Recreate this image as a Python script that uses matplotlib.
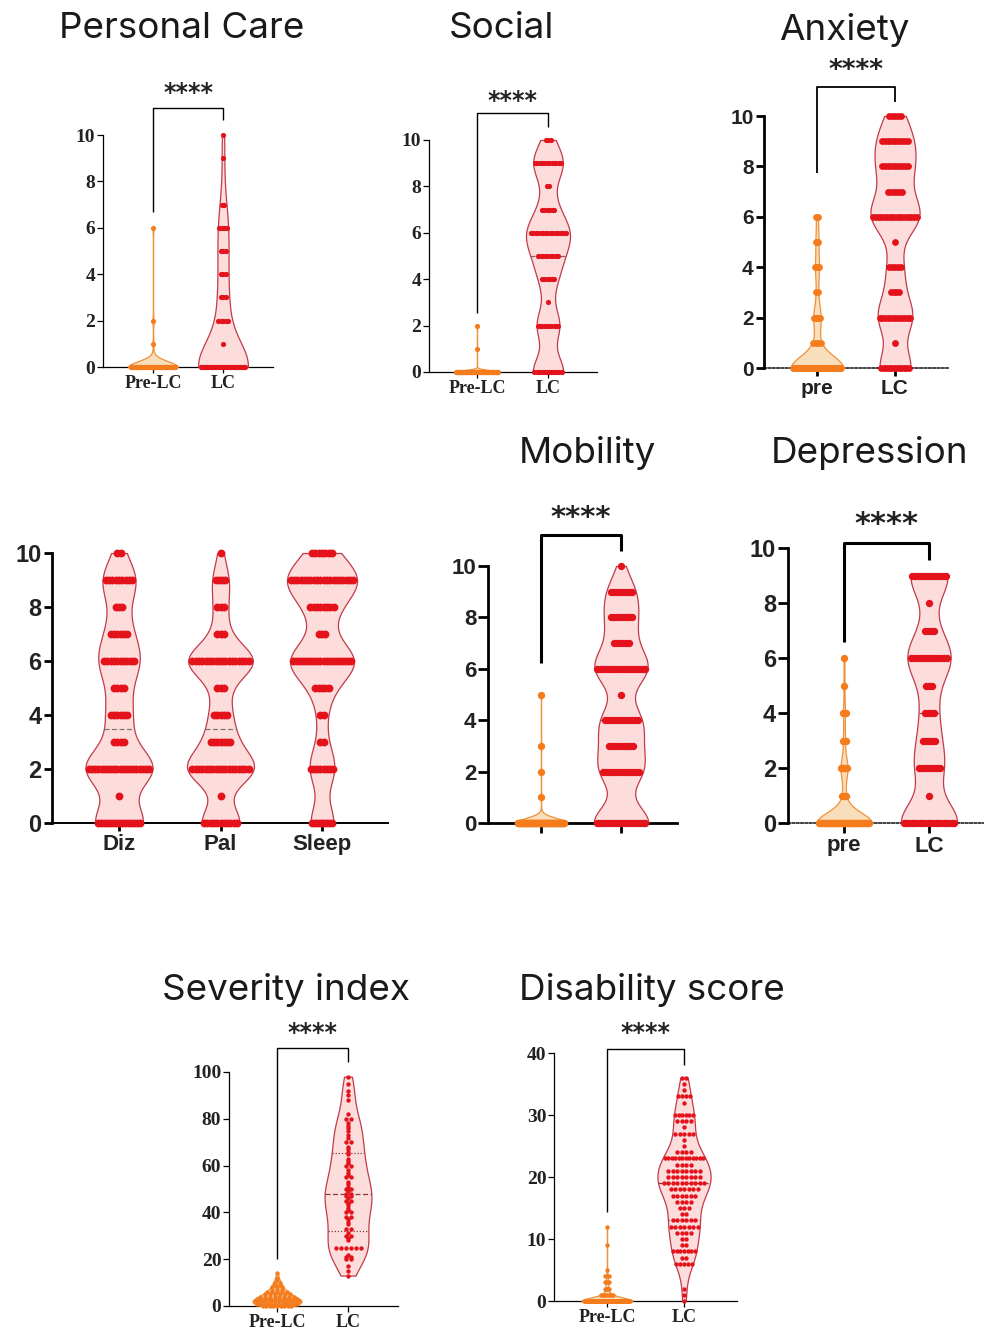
import numpy as np
import matplotlib
matplotlib.use("Agg")
import matplotlib.pyplot as plt

# ---------------- data ----------------
score_levels = list(range(11))

# counts of patients at each 0-10 score
personal_care_pre = [56, 1, 1, 0, 0, 0, 1, 0, 0, 0, 0]
personal_care_lc = [36, 1, 5, 3, 3, 3, 4, 2, 0, 1, 1]
social_pre = [76, 1, 1, 0, 0, 0, 0, 0, 0, 0, 0]
social_lc = [14, 0, 10, 1, 6, 9, 15, 6, 2, 12, 3]
anxiety_pre = [60, 4, 8, 2, 4, 3, 2, 0, 0, 0, 0]
anxiety_lc = [12, 1, 12, 4, 5, 1, 17, 6, 10, 10, 5]
dizziness = [15, 1, 20, 4, 6, 4, 10, 6, 3, 9, 2]
palpitations = [11, 1, 18, 7, 5, 3, 18, 3, 3, 4, 1]
sleep = [8, 0, 8, 2, 2, 5, 20, 3, 8, 20, 7]
mobility_pre = [91, 1, 1, 1, 0, 1, 0, 0, 0, 0, 0]
mobility_lc = [20, 0, 13, 9, 12, 1, 17, 6, 8, 8, 1]
depression_pre = [56, 3, 7, 2, 2, 1, 1, 0, 0, 0, 0]
depression_lc = [20, 1, 8, 5, 4, 3, 13, 4, 1, 13, 0]

symptom_labels = ["Diz", "Pal", "Sleep"]

severity_pre_levels = [0, 1, 2, 3, 4, 5, 6, 7, 8, 9, 10, 11, 12, 14]
severity_pre_counts = [9, 12, 12, 10, 8, 6, 5, 3, 3, 2, 2, 1, 1, 1]
severity_lc = [13, 15, 17, 20, 20, 21, 21, 22, 25, 25, 25, 25, 25, 25, 28, 29,
               30, 30, 31, 33, 33, 35, 36, 37, 38, 38, 40, 40, 41, 42, 43, 44,
               45, 45, 46, 47, 47, 48, 48, 49, 50, 50, 51, 52, 53, 55, 55, 56,
               57, 58, 60, 60, 61, 62, 63, 65, 66, 67, 68, 70, 70, 72, 73, 75,
               76, 77, 78, 80, 80, 82, 88, 90, 92, 95, 98]

disability_pre_levels = [0, 1, 2, 3, 4, 5, 9, 12]
disability_pre_counts = [110, 9, 5, 4, 2, 1, 1, 1]
disability_lc_levels = [0, 1, 2, 6, 7, 8, 9, 10, 11, 12, 13, 14, 15, 16, 17, 18,
                        19, 20, 21, 22, 23, 24, 25, 26, 27, 28, 29, 30, 32, 33,
                        34, 35, 36]
disability_lc_counts = [1, 1, 1, 5, 2, 7, 2, 2, 4, 7, 6, 2, 3, 4, 6, 7,
                        10, 8, 8, 4, 12, 4, 1, 1, 5, 1, 4, 6, 1, 4,
                        1, 1, 2]

pair_labels_long = ["Pre-LC", "LC"]
pair_labels_short = ["pre", "LC"]
stars = "****"

# ---------------- styling ----------------
W, H = 984, 1335
SERIF = ["Liberation Serif", "DejaVu Serif"]
SANS = ["Liberation Sans", "DejaVu Sans"]
TITLE = ["Inter", "DejaVu Sans"]
STAR = ["DejaVu Sans"]

RED = dict(face="#FDDCDC", edge="#C23A4A", dot="#E4121B", med="#8C5A5A")
ORANGE = dict(face="#F9DEBB", edge="#F09038", dot="#F47C1C", med="#B07A4A")

fig = plt.figure(figsize=(W / 100, H / 100), dpi=100)


def expand(levels, counts):
    return np.repeat(np.asarray(levels, float), counts)


def make_axes(left, right, y0, ytick_px, ytick_val, top, cats_px):
    unit = (cats_px[-1] - cats_px[0]) / (len(cats_px) - 1)
    ppv = (y0 - ytick_px) / ytick_val
    ax = fig.add_axes([left / W, 1 - y0 / H, (right - left) / W, (y0 - top) / H])
    ax.set_xlim((left - cats_px[0]) / unit, (right - cats_px[0]) / unit)
    ax.set_ylim(0, (y0 - top) / ppv)
    ax.patch.set_alpha(0)
    ax.unit = unit
    return ax


def half_width(body, pos, y):
    v = body.get_paths()[0].vertices
    r = v[v[:, 0] >= pos - 1e-9]
    order = np.argsort(r[:, 1])
    return float(np.interp(y, r[order, 1], r[order, 0]) - pos)


def draw_group(ax, values, pos, width, bw, pal, step_px, dot_s, edge_lw=0.9,
               med_color=None, quartiles=False):
    values = np.asarray(values, float)
    parts = ax.violinplot([values], positions=[pos], widths=width,
                          showextrema=False, bw_method=bw, points=600)
    body = parts["bodies"][0]
    body.set_facecolor(pal["face"])
    body.set_edgecolor(pal["edge"])
    body.set_alpha(1)
    body.set_linewidth(edge_lw)
    body.set_clip_on(False)
    body.set_zorder(1)
    q1, med, q3 = np.percentile(values, [25, 50, 75])
    lines = [(med, (0, (4, 2)))]
    if quartiles:
        lines += [(q1, (0, (1, 1.5))), (q3, (0, (1, 1.5)))]
    for y, ls in lines:
        hw = half_width(body, pos, y)
        ax.plot([pos - hw, pos + hw], [y, y], color=med_color or pal["med"],
                lw=0.9, ls=ls, zorder=2, clip_on=False)
    lv, cnt = np.unique(values, return_counts=True)
    step = step_px / ax.unit
    for v, n in zip(lv, cnt):
        cap = max(2 * half_width(body, pos, v) * 0.9, 0.0)
        spread = min(step * (n - 1), max(cap, step))
        xs = pos + np.linspace(-spread / 2, spread / 2, n)
        ax.scatter(xs, np.full(n, v), s=dot_s, color=pal["dot"], linewidths=0,
                   zorder=3, clip_on=False)


def style_axes(ax, ymax, yticks, yfont, ysize, ylw, xlw, xticks, xlabels,
               xfont, xsize, tick_len=5, xdotted=False):
    for s in ("top", "right"):
        ax.spines[s].set_visible(False)
    ax.spines["left"].set_bounds(0, ymax)
    ax.spines["left"].set_linewidth(ylw)
    ax.spines["bottom"].set_linewidth(xlw)
    ax.spines["bottom"].set_zorder(0.5)
    if xdotted:
        ax.spines["bottom"].set_linestyle((0, (1.2, 1.2)))
        ax.spines["bottom"].set_color("#333333")
    ax.set_yticks(yticks, labels=[str(t) for t in yticks], fontsize=ysize,
                  fontweight="bold", family=yfont, color="#222222")
    ax.set_xticks(xticks, labels=xlabels, fontsize=xsize, fontweight="bold",
                  family=xfont, color="#222222")
    ax.tick_params(axis="y", length=tick_len, width=ylw, pad=1.5)
    ax.tick_params(axis="x", length=tick_len, width=ylw, pad=2)


def bracket(ax, y_left, y_top, y_right, y_star, lw, star_size):
    ax.plot([0, 0, 1, 1], [y_left, y_top, y_top, y_right], color="black",
            lw=lw, clip_on=False, solid_capstyle="butt", zorder=4)
    ax.text(0.5, y_star, stars, ha="center", va="center", fontsize=star_size,
            fontweight="bold", family=STAR, color="#222222")


def title(x, y, text):
    fig.text(x / W, 1 - y / H, text, ha="center", va="center", fontsize=26.5,
             family=TITLE, color="#1a1a1a")


# ---------------- Personal Care ----------------
ax = make_axes(103, 273, 367, 135, 10, 85, [153, 223])
draw_group(ax, expand(score_levels, personal_care_pre), 0, 0.71, 0.3, ORANGE, 2.5, 14)
draw_group(ax, expand(score_levels, personal_care_lc), 1, 0.71, 0.4, RED, 2.5, 14)
style_axes(ax, 10, [0, 2, 4, 6, 8, 10], SERIF, 14, 0.9, 0.9, [0, 1],
           pair_labels_long, SERIF, 13, tick_len=4)
bracket(ax, 6.68, 11.16, 10.65, 11.8, 1.0, 17)
title(182, 28, "Personal Care")

# ---------------- Social ----------------
ax = make_axes(429, 597, 372, 140, 10, 90, [477, 548])
draw_group(ax, expand(score_levels, social_pre), 0, 0.65, 0.3, ORANGE, 2.5, 14)
draw_group(ax, expand(score_levels, social_lc), 1, 0.62, 0.22, RED, 2.5, 14)
style_axes(ax, 10, [0, 2, 4, 6, 8, 10], SERIF, 14, 0.9, 0.9, [0, 1],
           pair_labels_long, SERIF, 13, tick_len=4)
bracket(ax, 2.54, 11.16, 10.56, 11.7, 1.0, 17)
title(501, 28, "Social")

# ---------------- Anxiety ----------------
ax = make_axes(764, 948, 368, 116, 10, 60, [817, 895])
draw_group(ax, expand(score_levels, anxiety_pre), 0, 0.67, 0.3, ORANGE, 2.8, 24)
draw_group(ax, expand(score_levels, anxiety_lc), 1, 0.63, 0.22, RED, 2.8, 24)
style_axes(ax, 10, [0, 2, 4, 6, 8, 10], SANS, 15, 2.0, 1.3, [0, 1],
           pair_labels_short, SANS, 15, tick_len=6, xdotted=True)
bracket(ax, 7.74, 11.15, 10.56, 11.8, 1.3, 19)
title(844, 30, "Anxiety")

# ---------------- Dizziness / Palpitations / Sleep ----------------
ax = make_axes(52, 388, 823, 553, 10, 540, [119, 220.5, 322])
draw_group(ax, expand(score_levels, dizziness), 0, 0.66, 0.22, RED, 3.3, 32,
           med_color="#777777")
draw_group(ax, expand(score_levels, palpitations), 1, 0.66, 0.22, RED, 3.3, 32,
           med_color="#777777")
draw_group(ax, expand(score_levels, sleep), 2, 0.69, 0.22, RED, 3.3, 32,
           med_color="#777777")
style_axes(ax, 10, [0, 2, 4, 6, 8, 10], SANS, 17, 2.0, 1.4, [0, 1, 2],
           symptom_labels, SANS, 16, tick_len=6)

# ---------------- Mobility ----------------
ax = make_axes(488, 677, 823, 566, 10, 500, [541, 621])
draw_group(ax, expand(score_levels, mobility_pre), 0, 0.65, 0.3, ORANGE, 3.0, 28)
draw_group(ax, expand(score_levels, mobility_lc), 1, 0.68, 0.22, RED, 3.0, 28)
style_axes(ax, 10, [0, 2, 4, 6, 8, 10], SANS, 16, 2.0, 2.0, [0, 1],
           ["", ""], SANS, 15, tick_len=7)
bracket(ax, 6.23, 11.2, 10.6, 11.87, 2.2, 21)
title(587, 453, "Mobility")

# ---------------- Depression ----------------
ax = make_axes(788, 984, 823, 548, 10, 505, [844, 929])
draw_group(ax, expand(score_levels, depression_pre), 0, 0.65, 0.3, ORANGE, 3.0, 28)
draw_group(ax, expand(score_levels, depression_lc), 1, 0.66, 0.22, RED, 3.0, 28)
style_axes(ax, 10, [0, 2, 4, 6, 8, 10], SANS, 17, 2.0, 1.3, [0, 1],
           pair_labels_short, SANS, 16, tick_len=7, xdotted=True)
bracket(ax, 6.58, 10.18, 9.56, 10.87, 2.2, 22)
title(870, 453, "Depression")

# ---------------- Severity index ----------------
ax = make_axes(229, 398, 1306, 1072, 100, 1020, [277, 348])
draw_group(ax, expand(severity_pre_levels, severity_pre_counts), 0, 0.69, 0.4,
           ORANGE, 5, 10)
draw_group(ax, severity_lc, 1, 0.66, 0.3, RED, 5, 10, med_color="#8a3a3a",
           quartiles=True)
style_axes(ax, 100, [0, 20, 40, 60, 80, 100], SERIF, 14, 0.9, 0.9, [0, 1],
           pair_labels_long, SERIF, 13, tick_len=4)
bracket(ax, 20.1, 110.3, 104.3, 116.7, 1.0, 17)
title(286, 990, "Severity index")

# ---------------- Disability score ----------------
ax = make_axes(554, 737, 1301, 1053, 40, 1020, [607, 684])
draw_group(ax, expand(disability_pre_levels, disability_pre_counts), 0, 0.66,
           0.35, ORANGE, 4.5, 10)
draw_group(ax, expand(disability_lc_levels, disability_lc_counts), 1, 0.69, 0.3,
           RED, 4.5, 10, med_color="#8a3a3a", quartiles=True)
style_axes(ax, 40, [0, 10, 20, 30, 40], SERIF, 14, 0.9, 0.9, [0, 1],
           pair_labels_long, SERIF, 13, tick_len=4)
bracket(ax, 14.35, 40.6, 38.06, 43.2, 1.0, 17)
title(652, 990, "Disability score")

fig.savefig("out.png", dpi=100, facecolor="white")
